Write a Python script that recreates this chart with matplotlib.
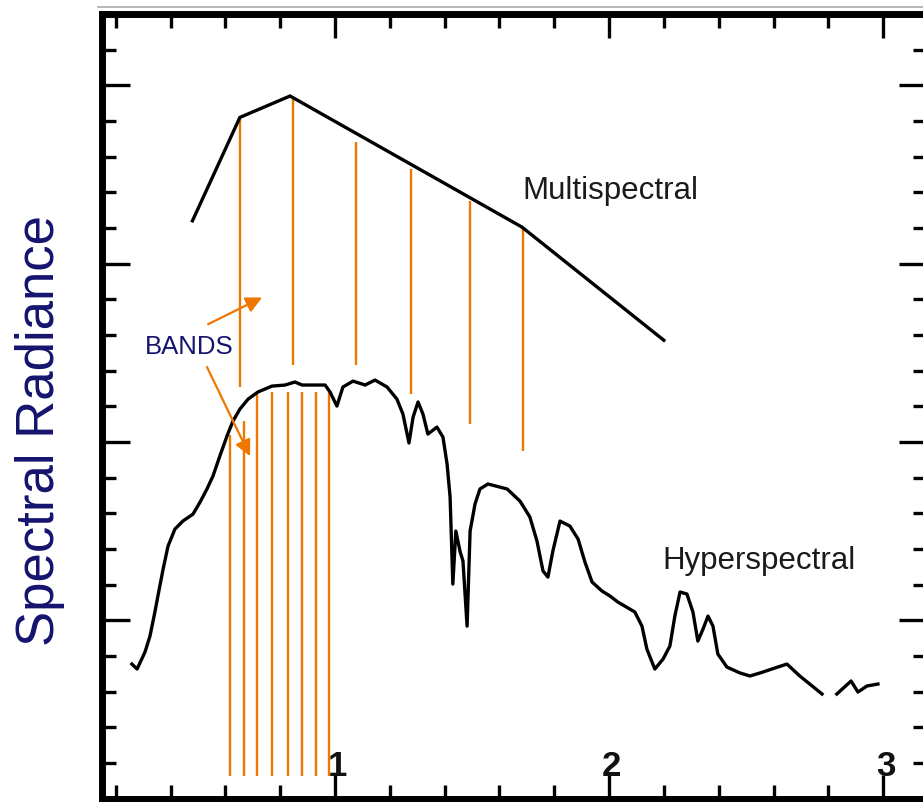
"""Multispectral vs hyperspectral band sampling sketch (spectral radiance vs wavelength)."""
import numpy as np
import matplotlib
matplotlib.use("Agg")
import matplotlib.pyplot as plt
from matplotlib.lines import Line2D
from matplotlib.ticker import MultipleLocator

plt.rcParams["font.family"] = ["Liberation Sans", "DejaVu Sans"]

ORANGE = "#EE7700"
NAVY = "#14146E"

# multispectral envelope (wavelength in um, radiance in arbitrary units)
ms_x = [0.48, 0.653, 0.836, 1.682, 2.200]
ms_y = [32.4, 38.2, 39.4, 32.05, 25.7]

# multispectral band markers: position, top, bottom
ms_band_x = [0.653, 0.847, 1.077, 1.277, 1.493, 1.686]
ms_band_top = [38.2, 39.4, 36.8, 35.3, 33.5, 32.05]
ms_band_bot = [23.1, 24.3, 24.3, 22.7, 21.0, 19.5]

# hyperspectral band markers
hs_band_x = [0.617, 0.668, 0.716, 0.770, 0.829, 0.880, 0.931, 0.978]
hs_band_top = [20.4, 21.2, 22.8, 22.8, 22.8, 22.8, 22.8, 22.8]
hs_band_bot = 1.26

# hyperspectral curve (NaN marks the gap near 2.8 um)
hs_x = [0.259, 0.278, 0.307, 0.325, 0.343, 0.354, 0.373, 0.391, 0.416, 0.445,
        0.482, 0.508, 0.533, 0.555, 0.580, 0.606, 0.628, 0.653, 0.683, 0.719,
        0.770, 0.818, 0.854, 0.880, 0.964, 0.982, 1.007, 1.029, 1.066, 1.110,
        1.146, 1.190, 1.226, 1.248, 1.270, 1.285, 1.303, 1.321, 1.339, 1.372,
        1.394, 1.409, 1.420, 1.430, 1.441, 1.456, 1.467, 1.482, 1.493, 1.511,
        1.529, 1.558, 1.628, 1.675, 1.711, 1.737, 1.759, 1.777, 1.795, 1.821,
        1.857, 1.887, 1.912, 1.938, 1.974, 2.003, 2.032, 2.094, 2.120, 2.138,
        2.167, 2.197, 2.222, 2.240, 2.259, 2.284, 2.306, 2.324, 2.343, 2.361,
        2.379, 2.397, 2.430, 2.478, 2.514, 2.561, 2.605, 2.649, 2.696, 2.777,
        np.nan, 2.831, 2.883, 2.908, 2.941, 2.981]
hs_y = [7.54, 7.26, 8.22, 9.11, 10.46, 11.36, 12.87, 14.16, 15.11, 15.56,
        15.95, 16.63, 17.36, 18.09, 19.21, 20.33, 21.17, 21.84, 22.40, 22.80,
        23.13, 23.19, 23.36, 23.19, 23.19, 22.80, 22.01, 23.08, 23.41, 23.19,
        23.47, 23.08, 22.40, 21.56, 19.94, 21.39, 22.24, 21.56, 20.44, 20.83,
        20.27, 18.76, 16.91, 12.03, 15.00, 13.88, 13.32, 9.67, 15.00, 16.52,
        17.36, 17.64, 17.36, 16.68, 15.79, 14.44, 12.76, 12.42, 13.88, 15.56,
        15.28, 14.55, 13.26, 12.14, 11.64, 11.36, 11.02, 10.46, 9.67, 8.38,
        7.26, 7.82, 8.55, 10.23, 11.58, 11.47, 10.46, 8.83, 9.51, 10.23,
        9.67, 8.10, 7.37, 7.04, 6.87, 7.09, 7.32, 7.54, 6.87, 5.86,
        np.nan, 5.86, 6.59, 5.97, 6.31, 6.42]

tick_vals = [1, 2, 3]
tick_text = ["1", "2", "3"]

# arrows from the BANDS label: (tail, head)
arrows = [((0.537, 26.6), (0.734, 28.1)),
          ((0.533, 24.2), (0.690, 19.2))]

fig = plt.figure(figsize=(9.23, 8.03), dpi=100)
ax = fig.add_axes([102 / 923, 3.5 / 803, 825 / 923, 784.5 / 803])
ax.set_xlim(0.15, 3.16)
ax.set_ylim(0, 44)

ax.vlines(ms_band_x, ms_band_bot, ms_band_top, color=ORANGE, lw=1.7, zorder=2)
ax.vlines(hs_band_x, hs_band_bot, hs_band_top, color=ORANGE, lw=1.7, zorder=2)
ax.plot(ms_x, ms_y, color="black", lw=2.4, solid_joinstyle="miter", zorder=3)
ax.plot(hs_x, hs_y, color="black", lw=2.4, zorder=3)

for tail, head in arrows:
    ax.annotate("", xy=head, xytext=tail,
                arrowprops=dict(arrowstyle="-|>", color=ORANGE, lw=1.6,
                                mutation_scale=24, shrinkA=0, shrinkB=0))

ax.text(0.628, 25.0, "BANDS", color=NAVY, fontsize=18.5, ha="right", va="baseline")
ax.text(1.682, 33.7, "Multispectral", color="#1a1a1a", fontsize=22.5, va="baseline")
ax.text(2.193, 12.9, "Hyperspectral", color="#1a1a1a", fontsize=22.5, va="baseline")

for v, s in zip(tick_vals, tick_text):
    ax.text(v + 0.01, 1.3, s, fontsize=25, fontweight="bold", ha="center",
            va="baseline", color="#111111")

ax.xaxis.set_major_locator(MultipleLocator(1))
ax.xaxis.set_minor_locator(MultipleLocator(0.2))
ax.yaxis.set_major_locator(MultipleLocator(10))
ax.yaxis.set_minor_locator(MultipleLocator(2))
ax.tick_params(which="both", direction="in", top=True, right=True,
               labelbottom=False, labelleft=False, width=2.4, color="black")
ax.tick_params(axis="x", which="major", length=17)
ax.tick_params(axis="x", which="minor", length=10)
ax.tick_params(axis="y", which="major", length=20)
ax.tick_params(axis="y", which="minor", length=10)
for sp in ax.spines.values():
    sp.set_linewidth(5)

# faint scan edge above the frame
fig.add_artist(Line2D([98 / 923, 1], [1 - 8 / 803, 1 - 8 / 803],
                      color="#aaaaaa", lw=1.2, transform=fig.transFigure))

fig.text(40 / 923, 1 - 430 / 803, "Spectral Radiance", color=NAVY, fontsize=38,
         rotation=90, ha="center", va="center")

fig.savefig("out.png", dpi=100)
